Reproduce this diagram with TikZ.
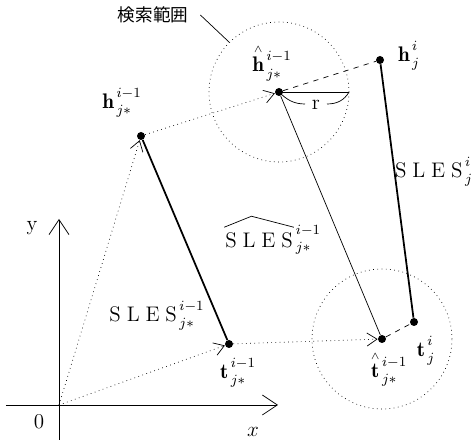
\documentclass[tikz,border=0pt]{standalone}
\usepackage{amsmath,amssymb}
\usepackage{fontspec}
\newfontfamily\cjk{Noto Sans CJK JP}
\usetikzlibrary{arrows.meta,positioning,calc}
\newcommand{\sles}{\mathrm{S\;L\;E\;S}}
\newcommand{\ix}{^{\,i-1\rule[-2pt]{0pt}{2pt}}_{\,j*\rule{0pt}{6pt}}}
\newcommand{\iy}{^{\,i\rule[-2pt]{0pt}{2pt}}_{\,j\rule{0pt}{6pt}}}
\newcommand{\est}[1]{\overset{\scriptscriptstyle\wedge}{#1}}

\begin{document}
\begin{tikzpicture}[>={Straight Barb[length=2mm,width=2.6mm]},
  pt/.style={circle,fill,inner sep=0pt,minimum size=1.6mm},
  vec/.style={dotted,thin,->},
  seg/.style={line width=1pt},
  moveline/.style={dashed,thin},
  lbl/.style={font=\large,inner sep=1pt}]
  \useasboundingbox (-1.18,-0.74) rectangle (8.32,8.10);
  % axes
  \coordinate (o) at (0,0);
  \coordinate (xl) at (-1.06,0);
  \coordinate (xr) at (4.38,0);
  \coordinate (yb) at (0,-0.70);
  \coordinate (yt) at (0,3.72);
  \draw[thin,-{Straight Barb[length=3mm,width=4mm]}] (xl) -- (xr);
  \draw[thin,-{Straight Barb[length=3mm,width=4mm]}] (yb) -- (yt);
  \node[lbl] (l0) at (-0.40,-0.34) {0};
  \node[lbl] (lx) at (3.88,-0.54) {$x$};
  \node[lbl] (ly) at (-0.54,3.54) {y};
  % points
  \node[pt] (h1) at (1.64,5.38) {};
  \node[pt] (t1) at (3.40,1.22) {};
  \node[pt] (hh) at (4.40,6.26) {};
  \node[pt] (hj) at (6.42,6.90) {};
  \node[pt] (ht) at (6.46,1.32) {};
  \node[pt] (tj) at (7.10,1.66) {};
  % search circles
  \draw[dotted,thin] (hh) circle (1.4);
  \draw[dotted,thin] (ht) circle (1.4);
  % vectors
  \draw[vec] (o) -- (h1);
  \draw[vec] (o) -- (t1);
  \draw[vec] (h1) -- (hh);
  \draw[vec] (t1) -- (ht);
  \draw[moveline] (hh) -- (hj);
  \draw[moveline] (ht) -- (tj);
  % segments
  \draw[seg] (h1) -- (t1);
  \draw[thin] (hh) -- (ht);
  \draw[seg] (hj) -- (tj);
  % radius
  \coordinate (re) at ($(hh)+(1.4,0)$);
  \coordinate (ra) at (4.92,6.02);
  \coordinate (rb) at (5.36,6.02);
  \draw[thin] (hh.center) -- (re);
  \draw[thin] (hh.center) to[out=-45,in=180] (ra);
  \draw[thin] (rb) to[out=0,in=-120] (re);
  \node[lbl] (lr) at (5.14,6.00) {r};
  % labels
  \node[lbl] (lh1) at (1.26,6.04) {$\mathbf{h}\ix$};
  \node[lbl] (lhh) at (4.26,6.84) {$\est{\mathbf{h}}{}\ix$};
  \node[lbl] (lhj) at (7.00,6.98) {$\mathbf{h}\iy$};
  \node[lbl] (lt1) at (3.58,0.64) {$\mathbf{t}\ix$};
  \node[lbl] (lht) at (6.60,0.72) {$\est{\mathbf{t}}{}\ix$};
  \node[lbl] (ltj) at (7.34,1.08) {$\mathbf{t}\iy$};
  \node[lbl] (s1) at (1.96,1.78) {$\sles\ix$};
  \node[lbl] (sj) at (7.50,4.66) {$\sles\iy$};
  \node[lbl] (sh) at (4.00,3.30) {$\sles$};
  \node[lbl,right=-2pt of sh] (shx) {${}\ix$};
  \draw[thin] ($(sh.north west)+(0.02,0.06)$) -- ($(sh.north)+(-0.15,0.28)$) -- ($(sh.north east)+(-0.02,0.06)$);
  % search range
  \coordinate (c135) at ($(hh)+(135:1.4)$);
  \node[font=\cjk\fontsize{10}{12}\selectfont] (lsr) at (1.88,7.80) {検索範囲};
  \draw[thin] ($(lsr.east)+(0.12,0)$) -- (c135);
\end{tikzpicture}
\end{document}
